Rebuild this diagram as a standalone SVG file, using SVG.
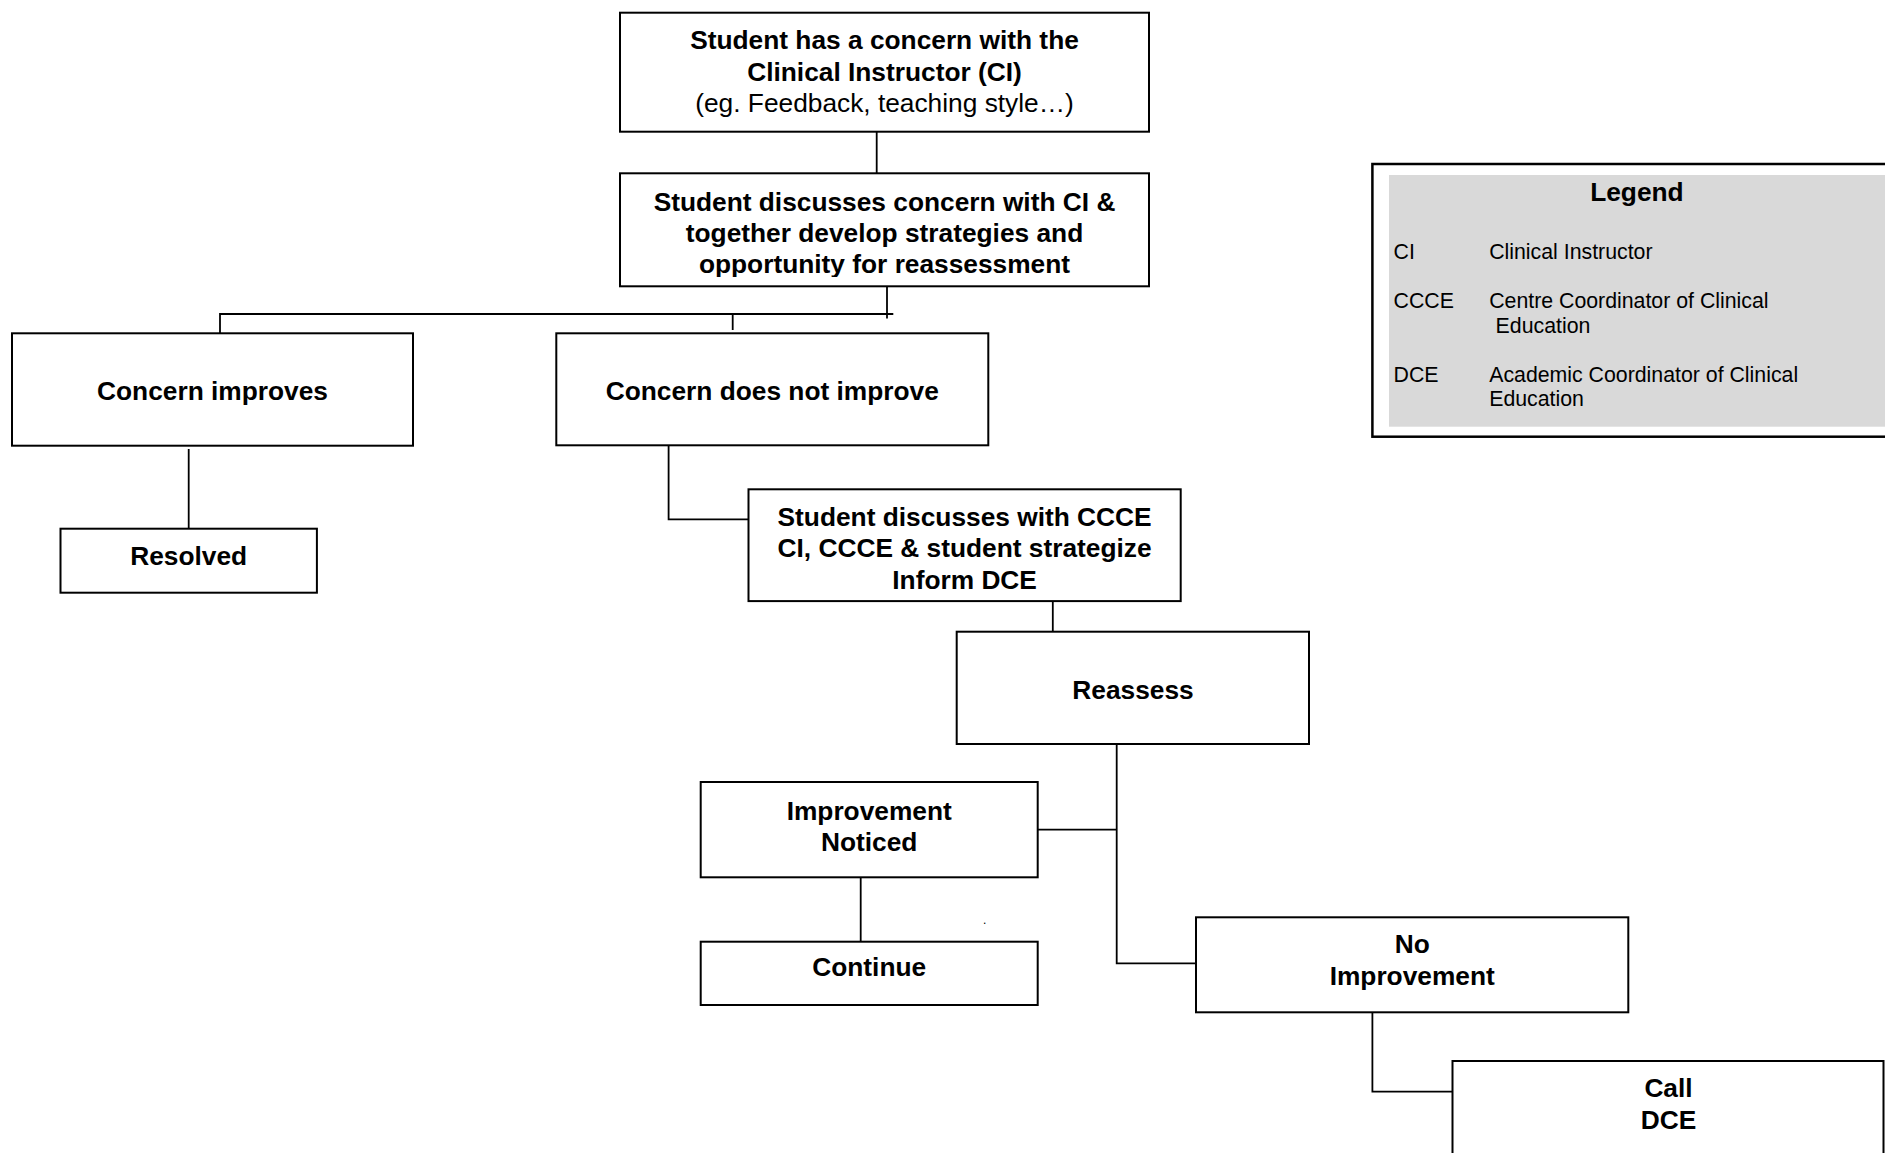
<svg xmlns="http://www.w3.org/2000/svg" width="1885" height="1153" viewBox="0 0 1885 1153">
<defs>
<style>
.box{fill:#fff;stroke:#000;stroke-width:2}
.c{fill:none;stroke:#000;stroke-width:1.8}
.b{font-family:"Liberation Sans",Arial,sans-serif;font-weight:bold;font-size:26.3px;fill:#000;text-anchor:middle}
.r{font-family:"Liberation Sans",Arial,sans-serif;font-size:26.3px;fill:#000;text-anchor:middle}
.lg{font-family:"Liberation Sans",Arial,sans-serif;font-size:21.3px;fill:#000}
</style>
<clipPath id="clip2"><rect x="620" y="173" width="529" height="104"/></clipPath>
</defs>
<rect x="0" y="0" width="1885" height="1153" fill="#fff"/>

<g id="connectors">
<line class="c" x1="876.7" y1="126" x2="876.7" y2="173.3"/>
<line class="c" x1="887" y1="286" x2="887" y2="318.5"/>
<polyline class="c" points="220,333.3 220,314 893.3,314"/>
<line class="c" x1="732.7" y1="314" x2="732.7" y2="330"/>
<line class="c" x1="188.7" y1="449" x2="188.7" y2="528.7"/>
<polyline class="c" points="668.6,440.7 668.6,519.3 748.5,519.3"/>
<line class="c" x1="1052.8" y1="597" x2="1052.8" y2="631.7"/>
<polyline class="c" points="1116.7,741.3 1116.7,963.3 1196,963.3"/>
<line class="c" x1="1037.7" y1="829.7" x2="1116.7" y2="829.7"/>
<line class="c" x1="860.7" y1="876.7" x2="860.7" y2="941.7"/>
<polyline class="c" points="1372.4,1010.7 1372.4,1091.7 1452.5,1091.7"/>
</g>

<g id="n-concern">
<rect class="box" x="620" y="12.7" width="529" height="119"/>
<text class="b" x="884.5" y="49">Student has a concern with the</text>
<text class="b" x="884.5" y="81">Clinical Instructor (CI)</text>
<text class="r" x="884.5" y="112">(eg. Feedback, teaching style…)</text>
</g>

<g id="n-discuss">
<rect class="box" x="620" y="173.3" width="529" height="113"/>
<g clip-path="url(#clip2)">
<text class="b" x="884.5" y="211">Student discusses concern with CI &amp;</text>
<text class="b" x="884.5" y="242">together develop strategies and</text>
<text class="b" x="884.5" y="273">opportunity for reassessment</text>
</g>
</g>

<g id="n-improves">
<rect class="box" x="12" y="333.3" width="401" height="112.4"/>
<text class="b" x="212.5" y="400.3">Concern improves</text>
</g>

<g id="n-notimprove">
<rect class="box" x="556.3" y="333.3" width="432" height="112"/>
<text class="b" x="772.3" y="400.3">Concern does not improve</text>
</g>

<g id="n-resolved">
<rect class="box" x="60.5" y="528.7" width="256.4" height="64"/>
<text class="b" x="188.7" y="565">Resolved</text>
</g>

<g id="n-ccce">
<rect class="box" x="748.5" y="489.3" width="432.2" height="111.8"/>
<text class="b" x="964.6" y="526">Student discusses with CCCE</text>
<text class="b" x="964.6" y="557.3">CI, CCCE &amp; student strategize</text>
<text class="b" x="964.6" y="588.8">Inform DCE</text>
</g>

<g id="n-reassess">
<rect class="box" x="956.7" y="631.7" width="352.3" height="112.3"/>
<text class="b" x="1133" y="699">Reassess</text>
</g>

<g id="n-noticed">
<rect class="box" x="700.7" y="782" width="337" height="95.3"/>
<text class="b" x="869.2" y="819.5">Improvement</text>
<text class="b" x="869.2" y="850.5">Noticed</text>
</g>

<g id="n-continue">
<rect class="box" x="700.7" y="941.7" width="337" height="63.3"/>
<text class="b" x="869.2" y="976">Continue</text>
</g>

<text x="983" y="924" font-family="Liberation Sans, Arial, sans-serif" font-size="12" fill="#000">.</text>

<g id="n-noimprove">
<rect class="box" x="1196" y="917.3" width="432.3" height="95"/>
<text class="b" x="1412.2" y="953.3">No</text>
<text class="b" x="1412.2" y="984.5">Improvement</text>
</g>

<g id="n-calldce">
<rect class="box" x="1452.5" y="1061" width="431" height="200"/>
<text class="b" x="1668.5" y="1096.7">Call</text>
<text class="b" x="1668.5" y="1128.8">DCE</text>
</g>

<g id="legend">
<rect x="1372.4" y="164" width="600" height="272.7" fill="#fff" stroke="#000" stroke-width="2.5"/>
<rect x="1389" y="175" width="600" height="251.7" fill="#d9d9d9"/>
<text class="b" x="1636.9" y="201">Legend</text>
<text class="lg" x="1393.5" y="259.3">CI</text>
<text class="lg" x="1489.2" y="259.3">Clinical Instructor</text>
<text class="lg" x="1393.5" y="307.7">CCCE</text>
<text class="lg" x="1489.2" y="307.7">Centre Coordinator of Clinical</text>
<text class="lg" x="1495.6" y="332.7">Education</text>
<text class="lg" x="1393.5" y="381.7">DCE</text>
<text class="lg" x="1489.2" y="381.7">Academic Coordinator of Clinical</text>
<text class="lg" x="1489.2" y="406">Education</text>
</g>
</svg>
